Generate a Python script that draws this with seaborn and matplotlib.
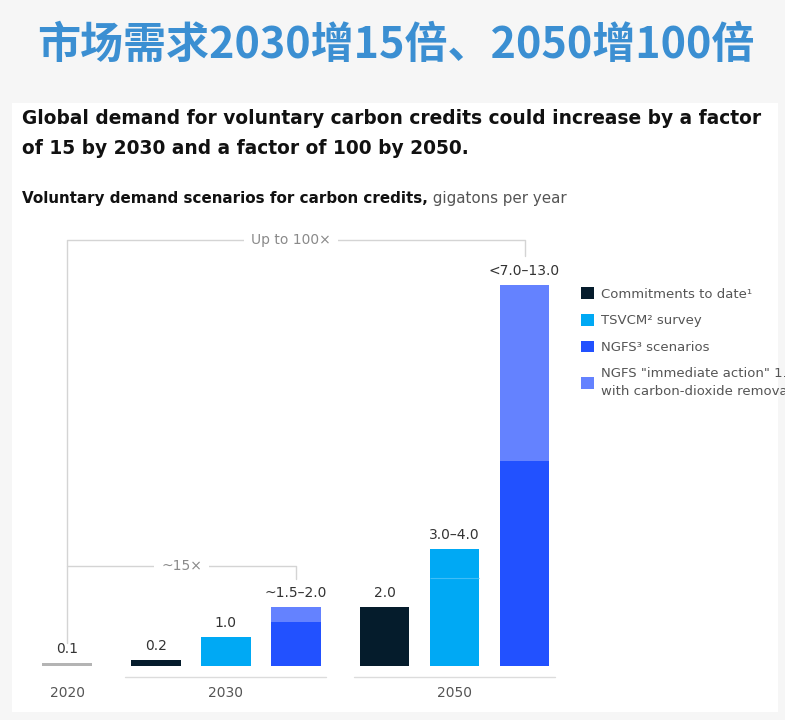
import matplotlib
matplotlib.use("Agg")
import matplotlib.pyplot as plt
import matplotlib.transforms as mtransforms
from matplotlib.patches import Patch, Rectangle
import pandas as pd
import seaborn as sns

# chart data
years = ["2020", "2030", "2030", "2030", "2050", "2050", "2050"]
series = ["Actual", "Commitments to date", "TSVCM survey", "NGFS scenarios",
          "Commitments to date", "TSVCM survey", "NGFS scenarios"]
low = [0.1, 0.2, 1.0, 1.5, 2.0, 3.0, 7.0]
high = [0.1, 0.2, 1.0, 2.0, 2.0, 4.0, 13.0]
value_labels = ["0.1", "0.2", "1.0", "~1.5\u20132.0", "2.0", "3.0\u20134.0", "<7.0\u201313.0"]
group_years = ["2020", "2030", "2050"]

legend_labels = ["Commitments to date\u00b9", "TSVCM\u00b2 survey", "NGFS\u00b3 scenarios",
                 "NGFS \"immediate action\" 1.5\u00b0C\nwith carbon-dioxide removal"]

title = "市场需求2030增15倍、2050增100倍"
subtitle = ["Global demand for voluntary carbon credits could increase by a factor",
            "of 15 by 2030 and a factor of 100 by 2050."]
chart_title_bold = "Voluntary demand scenarios for carbon credits,"
chart_title_unit = " gigatons per year"

palette = {
    "Actual": "#b4b4b4",
    "Commitments to date": "#051c2c",
    "TSVCM survey": "#00a9f4",
    "NGFS scenarios": "#2251ff",
    "NGFS immediate action": "#6482ff",
}

sns.set_theme(style="white")
plt.rcParams['font.family'] = ['DejaVu Sans']

fig = plt.figure(figsize=(7.85, 7.2), dpi=100)
fig.patch.set_facecolor("#f6f6f6")
fig.patches.append(Rectangle((12 / 785, 8 / 720), 766 / 785, 609 / 720,
                             transform=fig.transFigure, facecolor="white",
                             edgecolor="none", zorder=-5))

# bars: one step per bar, a little extra room between year groups
group_gap = 0.27
bar_width = 0.71
df = pd.DataFrame({"year": years, "series": series, "low": low, "high": high})
df["pos"] = [i + group_gap * group_years.index(y) for i, y in enumerate(years)]
df["top_key"] = ["NGFS immediate action" if s == "NGFS scenarios" else s for s in series]

ax = fig.add_axes([30 / 785, 54 / 720, 540 / 785, 439.5 / 720])
ax.set_facecolor("none")

sns.barplot(data=df, x="pos", y="high", hue="top_key", palette=palette,
            native_scale=True, width=bar_width, dodge=False, saturation=1,
            errorbar=None, legend=False, linewidth=0, ax=ax)
sns.barplot(data=df, x="pos", y="low", hue="series", palette=palette,
            native_scale=True, width=bar_width, dodge=False, saturation=1,
            errorbar=None, legend=False, linewidth=0, ax=ax)

# faint split inside the TSVCM range bar
for _, r in df[(df.series == "TSVCM survey") & (df.high > df.low)].iterrows():
    ax.hlines(r.low, r.pos - bar_width / 2, r.pos + bar_width / 2, color="#3fbdf7", lw=0.8)

for (_, r), lab in zip(df.iterrows(), value_labels):
    ax.annotate(lab, (r.pos, r.high), xytext=(0, 5), textcoords="offset points",
                ha="center", va="bottom", fontsize=10, color="#333333")

ax.set_xlim(-0.53, 7.19)
ax.set_ylim(0, 15)
ax.set_xticks([])
ax.set_yticks([])
ax.set_xlabel("")
ax.set_ylabel("")
sns.despine(ax=ax, left=True, bottom=True)

# brackets
bc = "#d4d4d4"
x0 = df.pos.iloc[0]
x30 = df.pos[(df.year == "2030") & (df.series == "NGFS scenarios")].iloc[0]
x50 = df.pos.iloc[-1]
ax.plot([x0, x0, x50, x50], [0.8, 14.54, 14.54, 14.0], color=bc, lw=1, clip_on=False)
ax.plot([x0, x30, x30], [3.41, 3.41, 2.97], color=bc, lw=1)
box = dict(facecolor="white", edgecolor="none", pad=5)
ax.text((x0 + x50) / 2 - 0.07, 14.54, "Up to 100\u00d7", ha="center", va="center",
        fontsize=10, color="#8a8a8a", bbox=box, clip_on=False)
ax.text((x0 + x30) / 2, 3.41, "~15\u00d7", ha="center", va="center",
        fontsize=10, color="#8a8a8a", bbox=box)

# year groups under the bars
trans = mtransforms.blended_transform_factory(ax.transData, ax.transAxes)
for y in group_years:
    p = df.pos[df.year == y]
    if len(p) > 1:
        ax.plot([p.min() - bar_width / 2 - 0.08, p.max() + bar_width / 2 + 0.08],
                [-0.025, -0.025], color="#dcdcdc", lw=1, transform=trans, clip_on=False)
    ax.text(p.mean(), -0.0614, y, ha="center", va="center", fontsize=10,
            color="#555555", transform=trans)

# legend (the last label runs off the card, as in the source)
handles = [Patch(facecolor=palette[k], edgecolor="none") for k in
           ["Commitments to date", "TSVCM survey", "NGFS scenarios", "NGFS immediate action"]]
leg = fig.legend(handles, legend_labels, loc="upper left",
                 bbox_to_anchor=(576 / 785, 1 - 282 / 720),
                 frameon=False, handlelength=1.0, handleheight=1.0, fontsize=9.5,
                 labelcolor="#555555", handletextpad=0.5, labelspacing=1.0, borderaxespad=0)
leg.get_texts()[3].set_linespacing(1.5)

# headings
fig.text(396 / 785, 1 - 45 / 720, title, ha="center", va="center", fontsize=31,
         fontweight="bold", color="#3b8fd2", family=["Noto Sans CJK SC", "DejaVu Sans"])
for i, line in enumerate(subtitle):
    fig.text(22 / 785, 1 - (119 + 29 * i) / 720, line, ha="left", va="center",
             fontsize=13.4, fontweight="bold", color="#111111")
t1 = fig.text(22 / 785, 1 - 199 / 720, chart_title_bold, ha="left", va="center",
              fontsize=10.9, fontweight="bold", color="#111111")
renderer = fig.canvas.get_renderer()
bb = t1.get_window_extent(renderer).transformed(fig.transFigure.inverted())
fig.text(bb.x1, 1 - 199 / 720, chart_title_unit, ha="left", va="center",
         fontsize=10.9, color="#555555")

fig.savefig("out.png", dpi=100, facecolor=fig.get_facecolor())
